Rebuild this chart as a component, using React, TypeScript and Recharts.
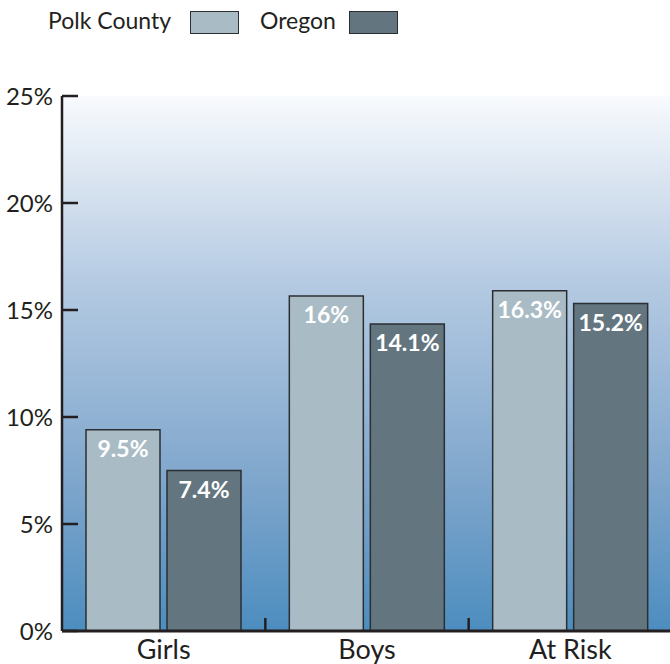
import React from 'react';
import { BarChart, Bar, XAxis, YAxis, CartesianGrid, LabelList } from 'recharts';

const categories = ['Girls', 'Boys', 'At Risk'];
const polkValues = [9.4, 15.65, 15.9];
const oregonValues = [7.5, 14.35, 15.3];
const polkLabels = ['9.5%', '16%', '16.3%'];
const oregonLabels = ['7.4%', '14.1%', '15.2%'];
const yTicks = [0, 5, 10, 15, 20, 25];

const data = categories.map((c, i) => ({
  name: c,
  polk: polkValues[i],
  oregon: oregonValues[i],
  polkLabel: polkLabels[i],
  oregonLabel: oregonLabels[i],
}));

const FONT = 'Lato, "Noto Sans", sans-serif';
const INK = '#231f20';
const POLK = '#a9bcc5';
const OREGON = '#63767f';
const EDGE = '#2b2f33';

const YTick = (props: any) => {
  const { x, y, payload } = props;
  return (
    <g>
      <text x={x} y={y} dy={9} textAnchor="end" fontSize={24} fill={INK} fontFamily={FONT}>
        {`${payload.value}%`}
      </text>
      <line x1={x + 9} x2={x + 25} y1={y} y2={y} stroke={INK} strokeWidth={2.5} />
    </g>
  );
};

const XTick = (props: any) => {
  const { x, y, payload, index, visibleTicksCount } = props;
  const off = payload.offset;
  const count = visibleTicksCount ?? categories.length;
  return (
    <g>
      <text x={x} y={y} dy={28} textAnchor="middle" fontSize={27} fill={INK} fontFamily={FONT}>
        {payload.value}
      </text>
      {index < count - 1 && off ? (
        <line x1={x + off} x2={x + off} y1={y} y2={y - 13} stroke={INK} strokeWidth={2.5} />
      ) : null}
    </g>
  );
};

const BarLabel = (props: any) => {
  const { x, y, width, value } = props;
  return (
    <text x={x + width / 2} y={y + 27} textAnchor="middle" fill="#ffffff" fontWeight={700} fontSize={23} fontFamily={FONT}>
      {value}
    </text>
  );
};

const Swatch = ({ color, left }: { color: string; left: number }) => (
  <div style={{ position: 'absolute', left, top: 11, width: 47, height: 21, background: color, border: `1.5px solid ${EDGE}` }} />
);

export default function App() {
  return (
    <div style={{ position: 'absolute', left: 0, top: 0, width: 670, height: 664, overflow: 'hidden', background: '#fff', fontFamily: FONT }}>
      <div style={{ position: 'absolute', left: 48, top: 6, fontSize: 23, color: INK, lineHeight: '28px' }}>Polk County</div>
      <Swatch color={POLK} left={190} />
      <div style={{ position: 'absolute', left: 260, top: 6, fontSize: 23, color: INK, lineHeight: '28px' }}>Oregon</div>
      <Swatch color={OREGON} left={349} />
      <BarChart
        width={672}
        height={664}
        data={data}
        margin={{ top: 96, right: 0, bottom: 0, left: 0 }}
        barCategoryGap={24}
        barGap={7}
      >
        <defs>
          <linearGradient id="bgGrad" x1="0" y1="0" x2="0" y2="1">
            <stop offset="0" stopColor="#f8fafd" />
            <stop offset="0.35" stopColor="#b4cae2" />
            <stop offset="0.72" stopColor="#7fa6cc" />
            <stop offset="1" stopColor="#4c8dbf" />
          </linearGradient>
        </defs>
        <CartesianGrid fill="url(#bgGrad)" stroke="none" horizontal={false} vertical={false} />
        <XAxis
          dataKey="name"
          height={33}
          tickSize={0}
          tickMargin={0}
          tickLine={false}
          axisLine={{ stroke: INK, strokeWidth: 3 }}
          tick={<XTick />}
        />
        <YAxis
          width={62}
          domain={[0, 25]}
          ticks={yTicks}
          tickSize={0}
          tickMargin={9}
          tickLine={false}
          axisLine={{ stroke: INK, strokeWidth: 2.5 }}
          tick={<YTick />}
          interval={0}
        />
        <Bar dataKey="polk" fill={POLK} stroke={EDGE} strokeWidth={1.5} isAnimationActive={false}>
          <LabelList dataKey="polkLabel" content={<BarLabel />} />
        </Bar>
        <Bar dataKey="oregon" fill={OREGON} stroke={EDGE} strokeWidth={1.5} isAnimationActive={false}>
          <LabelList dataKey="oregonLabel" content={<BarLabel />} />
        </Bar>
      </BarChart>
    </div>
  );
}
